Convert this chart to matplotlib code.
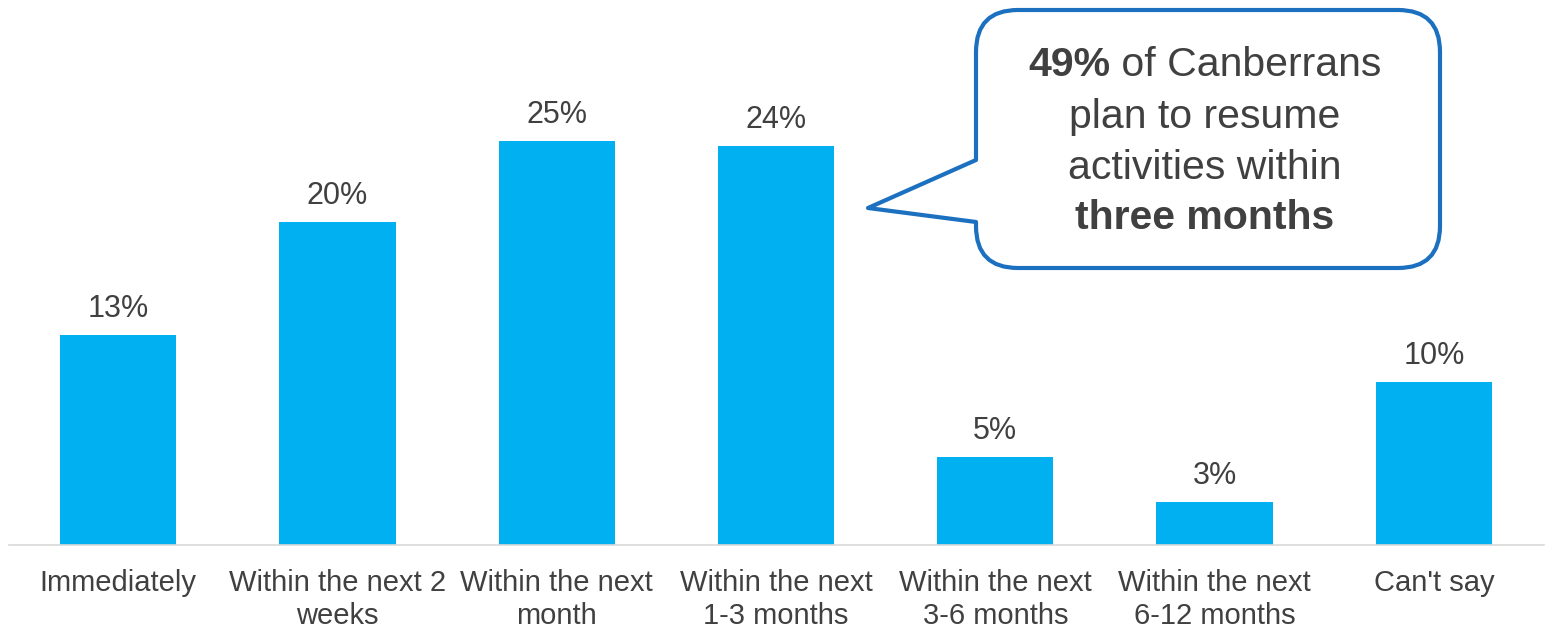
import matplotlib
matplotlib.use("Agg")
import matplotlib.pyplot as plt
from matplotlib.path import Path
from matplotlib.patches import PathPatch
from matplotlib.transforms import Affine2D

categories = ["Immediately", "Within the next 2\nweeks", "Within the next\nmonth",
              "Within the next\n1-3 months", "Within the next\n3-6 months",
              "Within the next\n6-12 months", "Can't say"]
# bar heights; labels as printed
values = [13.0, 20.0, 25.0, 24.7, 5.45, 2.65, 10.1]
labels = ["13%", "20%", "25%", "24%", "5%", "3%", "10%"]

bar_color = "#00B0F0"
text_color = "#404040"
box_color = "#1B70BF"

plt.rcParams["font.family"] = ["Liberation Sans", "DejaVu Sans"]

W, H = 1548, 629
fig = plt.figure(figsize=(W / 100, H / 100), dpi=100)
ax = fig.add_axes([8.5 / W, (H - 545) / H, 1535 / W, 485 / H])

x = range(len(values))
bars = ax.bar(x, values, width=0.53, color=bar_color, zorder=2)
for b, v, lab in zip(bars, values, labels):
    ax.annotate(lab, (b.get_x() + b.get_width() / 2, v),
                xytext=(0, 13), textcoords="offset points",
                ha="center", va="baseline", fontsize=22, color=text_color)

ax.set_xlim(-0.5, len(values) - 0.5)
ax.set_ylim(0, 30)
ax.set_xticks(list(x))
ax.set_xticklabels(categories, fontsize=21, color=text_color, linespacing=1.25)
ax.tick_params(axis="x", length=0, pad=17)
ax.set_yticks([])
for s in ["top", "right", "left"]:
    ax.spines[s].set_visible(False)
ax.spines["bottom"].set_color("#D9D9D9")
ax.spines["bottom"].set_linewidth(1.2)

# callout box in pixel coordinates (y measured from the top)
px = Affine2D().scale(1 / W, -1 / H).translate(0, 1) + fig.transFigure
L, R, T, B, r = 976, 1440, 10, 268, 42
verts = [(L + r, T), (R - r, T), (R, T), (R, T + r), (R, B - r), (R, B), (R - r, B),
         (L + r, B), (L, B), (L, B - r), (L, 222), (868, 208), (L, 160), (L, T + r),
         (L, T), (L + r, T), (L + r, T)]
codes = [Path.MOVETO, Path.LINETO, Path.CURVE3, Path.CURVE3, Path.LINETO, Path.CURVE3,
         Path.CURVE3, Path.LINETO, Path.CURVE3, Path.CURVE3, Path.LINETO, Path.LINETO,
         Path.LINETO, Path.LINETO, Path.CURVE3, Path.CURVE3, Path.CLOSEPOLY]
fig.patches.append(PathPatch(Path(verts, codes), transform=px, facecolor="white",
                             edgecolor=box_color, linewidth=3, joinstyle="round"))

cx = 1205
fs = 29.5
fig.canvas.draw()
rend = fig.canvas.get_renderer()
t1 = fig.text(0, 0, "49%", transform=px, fontsize=fs, fontweight="bold",
              color=text_color, va="center", ha="left")
t2 = fig.text(0, 0, " of Canberrans", transform=px, fontsize=fs,
              color=text_color, va="center", ha="left")
w1 = t1.get_window_extent(rend).width
w2 = t2.get_window_extent(rend).width
x0 = cx - (w1 + w2) / 2
t1.set_position((x0, 65))
t2.set_position((x0 + w1, 65))
fig.text(cx, 117, "plan to resume", transform=px, fontsize=fs, color=text_color,
         va="center", ha="center")
fig.text(cx, 168, "activities within", transform=px, fontsize=fs, color=text_color,
         va="center", ha="center")
fig.text(cx, 218, "three months", transform=px, fontsize=fs, fontweight="bold",
         color=text_color, va="center", ha="center")

fig.savefig("out.png", dpi=100, facecolor="white")
